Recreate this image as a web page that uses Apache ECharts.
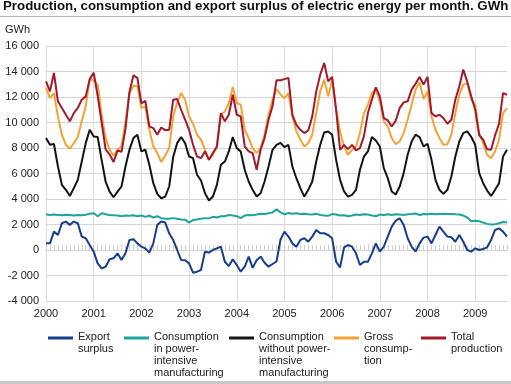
<!DOCTYPE html>
<html>
<head>
<meta charset="utf-8">
<script src="https://cdn.jsdelivr.net/npm/echarts@6/dist/echarts.min.js"></script>
<style>
html,body{margin:0;padding:0;background:#fff;}
#c{width:511px;height:384px;}
</style>
</head>
<body>
<div id="c"></div>
<script>
// Months Jan 2000 .. Sep 2009
const years = [2000,2001,2002,2003,2004,2005,2006,2007,2008,2009];
const categories = [];
years.forEach(function(y){ for (let m=1;m<=12;m++){ if (categories.length<117) categories.push(y+'M'+(m<10?'0'+m:m)); } });

const yTicks = [-4000,-2000,0,2000,4000,6000,8000,10000,12000,14000,16000];

const exportSurplus = [
 520,520,1440,1180,2100,2230,1970,2230,2100,1050,920,390,
 -130,-1050,-1440,-1310,-730,-650,-260,-790,-260,790,840,520,
 260,130,-210,520,1970,2230,2150,1310,790,0,-790,-800,
 -1050,-1780,-1700,-1570,-130,-200,0,130,260,-920,-1260,-730,
 -1180,-1700,-1300,-520,-1400,-800,-520,-1000,-1310,-1100,-900,800,
 1440,1050,520,260,790,920,650,1050,1570,1310,1310,1180,
 920,-920,-1360,210,390,260,-260,-1180,-920,-920,-260,520,
 -130,260,1050,1830,2300,2490,1970,920,260,-130,520,970,
 1050,520,1180,1830,1440,1050,1000,650,1180,650,0,-130,
 130,0,80,210,790,1570,1700,1440,1050
];
const powerIntensive = [
 2800,2750,2780,2750,2720,2760,2740,2700,2750,2720,2760,2850,
 2880,2650,2880,2800,2750,2720,2700,2650,2700,2680,2720,2650,
 2700,2600,2700,2550,2650,2500,2450,2450,2500,2450,2400,2380,
 2150,2350,2400,2450,2500,2480,2600,2550,2650,2650,2750,2700,
 2650,2500,2700,2750,2720,2780,2850,2830,2880,2950,3200,2950,
 2800,2900,2850,2880,2820,2850,2800,2780,2850,2750,2700,2680,
 2820,2780,2700,2720,2650,2700,2780,2750,2800,2780,2700,2650,
 2780,2750,2800,2750,2800,2780,2750,2800,2820,2860,2750,2820,
 2800,2850,2800,2830,2850,2830,2820,2800,2790,2700,2550,2250,
 2300,2250,2150,2050,2000,2020,2100,2200,2180
];
const withoutPowerIntensive = [
 8780,8250,8310,6550,5110,4720,4240,4850,5500,6940,8380,9430,
 8910,8860,7070,5370,4580,4140,4580,4980,6550,7860,8780,9040,
 7730,7860,6680,5240,4400,4060,4190,4980,7300,8380,8860,8380,
 7330,7200,5900,5450,4450,3880,4190,5110,6680,6940,7730,8860,
 7990,7730,6290,5370,4720,4190,4450,5370,6550,7860,8250,8400,
 8070,8250,6550,5630,4850,4190,4720,5370,6940,8250,9220,9300,
 9040,7070,5500,4590,4190,4320,4720,6290,7330,7730,8860,8590,
 8120,6420,5630,4590,4350,4980,6030,7470,8510,9040,8860,8120,
 8330,7070,5500,4720,4400,4720,5760,7330,8510,9170,9300,8860,
 8250,6030,5240,4660,4240,4720,5240,7330,7860
];
const grossConsumption = [
 12710,11920,12310,10480,9040,8250,7940,8380,8860,10090,11270,13400,
 13300,12970,10610,8780,7860,7390,7860,8120,10090,12310,12890,12840,
 11130,11270,9430,8120,7600,6900,7400,8000,10480,11530,12310,11790,
 10480,9900,9040,8650,7860,7070,7470,8120,10610,10870,11530,12790,
 11530,11400,9430,8780,7990,7600,7990,9040,10610,11790,12630,12200,
 11900,12300,10480,9300,8650,8120,8380,9040,10740,12440,13360,12050,
 13360,11000,9300,8120,7470,7860,8120,9170,10740,11400,12310,12580,
 11660,10090,9690,8780,8300,8510,9170,10220,11400,12580,13150,11840,
 12440,10480,9430,8780,8250,8300,9040,10740,12180,12970,13100,11790,
 11400,9170,8380,7470,7200,7730,8650,10740,11130
];
const totalProduction = [
 13230,12440,13890,11660,11140,10610,10090,10740,11140,11790,12050,13400,
 13900,12100,10000,7900,7500,6900,7800,7700,9500,12400,13700,13500,
 11500,11700,9700,9560,9040,9600,9400,9430,11790,11840,11000,10220,
 9430,8250,7330,7200,7730,7070,7600,8120,10740,10090,10610,12180,
 10610,10480,8120,7730,7600,6290,7860,8780,10220,11270,13310,13310,
 13400,13500,10600,9820,9430,9170,9380,10480,12440,13750,14670,13230,
 13570,11000,7860,8250,7910,8250,7810,7990,8910,10740,11790,12760,
 12050,10350,10170,9690,10150,11130,11580,11660,12580,13050,13570,12970,
 13570,10740,10480,10610,10350,9900,10220,11790,12840,14150,13200,12050,
 11000,9000,8650,7900,7860,9000,9900,12300,12180
];

const names = ['Export surplus','Consumption in power-intensive manufacturing','Consumption without power-intensive manufacturing','Gross consumption','Total production'];
const legendText = ['Export\nsurplus','Consumption\nin power-\nintensive\nmanufacturing','Consumption\nwithout power-\nintensive\nmanufacturing','Gross\nconsump-\ntion','Total\nproduction'];
const colors = ['#173d8e','#1fa39a','#141414','#f5a234','#a3192c'];
const seriesData = [exportSurplus, powerIntensive, withoutPowerIntensive, grossConsumption, totalProduction];

const FONT = '"Liberation Sans", Arial, sans-serif';
const legendLeft = [48, 124, 229, 334, 421];
const iconCenter = 338;

function fmt(v){
  const s = String(Math.abs(v)).replace(/\B(?=(\d{3})+(?!\d))/g, ' ');
  return (v<0?'-':'') + s;
}

const legends = names.map(function(n,i){
  const lines = legendText[i].split('\n');
  const S = 12*lines.length - 14;
  const H = 12*lines.length + S;
  return {
    data:[n], left: legendLeft[i], top: iconCenter - H/2,
    padding:0, itemWidth:25, itemHeight:3, icon:'rect', selectedMode:false,
    formatter: function(){ return '{s|}\n' + lines.map(function(l){return '{t|'+l+'}';}).join('\n'); },
    textStyle:{fontFamily:FONT, fontSize:11, color:'#222', lineHeight:12,
      rich:{ s:{height:S, lineHeight:S, fontSize:1}, t:{fontFamily:FONT, fontSize:11, color:'#222', lineHeight:12, height:12} }}
  };
});

const chart = echarts.init(document.getElementById('c'), null, {renderer:'canvas'});
chart.setOption({
  animation:false,
  backgroundColor:'#fff',
  title:{text:'Production, consumption and export surplus of electric energy per month. GWh',
    left:3, top:0, padding:0,
    textStyle:{fontFamily:FONT, fontSize:13.3, fontWeight:'bold', color:'#111'}},
  graphic:[
    {type:'rect', shape:{x:0,y:16,width:511,height:1}, style:{fill:'#b8b8b8'}},
    {type:'rect', shape:{x:0,y:381,width:511,height:3}, style:{fill:'#c8c8c8'}},
    {type:'text', left:5, top:24, style:{text:'GWh', font:'11px '+FONT, fill:'#222'}}
  ],
  legend: legends,
  grid:{left:46, right:4, top:46, bottom:83, containLabel:false},
  xAxis:[{
    type:'category', data:categories, boundaryGap:false,
    axisLine:{show:false, onZero:false}, axisTick:{show:false},
    axisLabel:{interval:function(idx){return idx%12===0;}, margin:7,
      formatter:function(v){return v.slice(0,4);},
      fontFamily:FONT, fontSize:11, color:'#222'},
    splitLine:{show:true, interval:function(idx){return idx%12===0;}, lineStyle:{color:'#dcdcdc', width:1}}
  },{
    type:'category', data:categories, boundaryGap:false, position:'bottom',
    axisLine:{show:true, onZero:true, lineStyle:{color:'#d0d0d0'}},
    axisTick:{show:true, interval:0, inside:true, length:5, lineStyle:{color:'#cfcfcf'}},
    axisLabel:{show:false}, splitLine:{show:false}
  }],
  yAxis:{
    type:'value', min:-4000, max:16000, interval:2000,
    axisLine:{show:false}, axisTick:{show:false},
    axisLabel:{formatter:fmt, margin:7, fontFamily:FONT, fontSize:11, color:'#222'},
    splitLine:{lineStyle:{color:'#d4d4d4', width:1}}
  },
  series: names.map(function(n,i){
    return {name:n, type:'line', xAxisIndex:0, data:seriesData[i], symbol:'none', showSymbol:false,
      lineStyle:{color:colors[i], width:2}, itemStyle:{color:colors[i]}, z:2+i};
  })
});
</script>
</body>
</html>
